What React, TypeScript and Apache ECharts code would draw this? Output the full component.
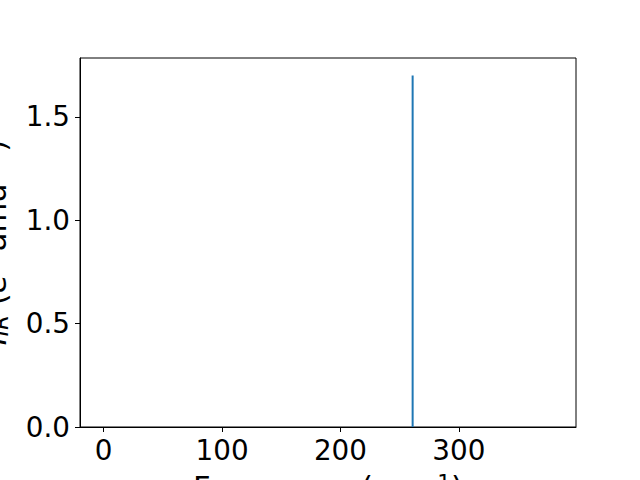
import React, { useEffect, useRef } from "react";
import * as echarts from "echarts";

// Data
const peakFrequencies = [261];
const peakIntensities = [1.7];
const xTickValues = [0, 100, 200, 300];
const yTickValues = [0, 0.5, 1.0, 1.5];
const xRange = [-20, 399];
const yRange = [0, 1.785];

const FONT = "DejaVu Sans";
const FS = 27.8; // tick labels (20pt)
const LFS = 30.6; // axis titles (22pt)
const SFS = 21.4; // super/subscripts

export default function App() {
  const ref = useRef<HTMLDivElement>(null);
  useEffect(() => {
    document.body.style.margin = "0";
    const chart = echarts.init(ref.current!, null, { renderer: "svg" });
    const series = peakFrequencies.map((f, i) => ({
      type: "line",
      data: [
        [f, 0],
        [f, peakIntensities[i]],
      ],
      symbol: "none",
      lineStyle: { color: "#1f77b4", width: 2 },
      clip: true,
    }));
    chart.setOption({
      animation: false,
      grid: {
        left: 80,
        right: 64,
        top: 58,
        bottom: 53,
        containLabel: false,
        outerBoundsMode: "none",
        show: true,
        borderColor: "#000",
        borderWidth: 1,
      },
      xAxis: {
        type: "value",
        min: xRange[0],
        max: xRange[1],
        name: "Frequency (cm{sup|−1})",
        nameLocation: "middle",
        nameGap: 45,
        nameTextStyle: {
          fontFamily: FONT,
          fontSize: LFS,
          color: "#000",
          rich: {
            sup: { fontFamily: FONT, fontSize: SFS, color: "#000", verticalAlign: "top" },
          },
        },
        axisLine: { show: true, onZero: false, lineStyle: { color: "#000", width: 1 } },
        axisTick: {
          show: true,
          length: 5,
          lineStyle: { color: "#000", width: 1 },
          customValues: xTickValues,
        },
        axisLabel: {
          customValues: xTickValues,
          margin: 9,
          fontFamily: FONT,
          fontSize: FS,
          color: "#000",
        },
        splitLine: { show: false },
      },
      yAxis: {
        type: "value",
        min: yRange[0],
        max: yRange[1],
        name: "{it|I}{sub|IR} ({it|e}{sup|2} amu{sup|−1})",
        nameLocation: "middle",
        nameGap: 69,
        nameTextStyle: {
          fontFamily: FONT,
          fontSize: LFS,
          color: "#000",
          rich: {
            it: { fontFamily: FONT, fontSize: LFS, fontStyle: "italic", color: "#000" },
            sub: { fontFamily: FONT, fontSize: SFS, fontStyle: "italic", color: "#000", verticalAlign: "bottom" },
            sup: { fontFamily: FONT, fontSize: SFS, color: "#000", verticalAlign: "top" },
          },
        },
        axisLine: { show: true, onZero: false, lineStyle: { color: "#000", width: 1 } },
        axisTick: {
          show: true,
          length: 5,
          lineStyle: { color: "#000", width: 1 },
          customValues: yTickValues,
        },
        axisLabel: {
          customValues: yTickValues,
          margin: 10,
          fontFamily: FONT,
          fontSize: FS,
          color: "#000",
          formatter: (v: number) => v.toFixed(1),
        },
        splitLine: { show: false },
      },
      series,
    });
    return () => chart.dispose();
  }, []);
  return (
    <div
      ref={ref}
      style={{ position: "absolute", left: 0, top: 0, width: 640, height: 480, background: "#fff" }}
    />
  );
}
